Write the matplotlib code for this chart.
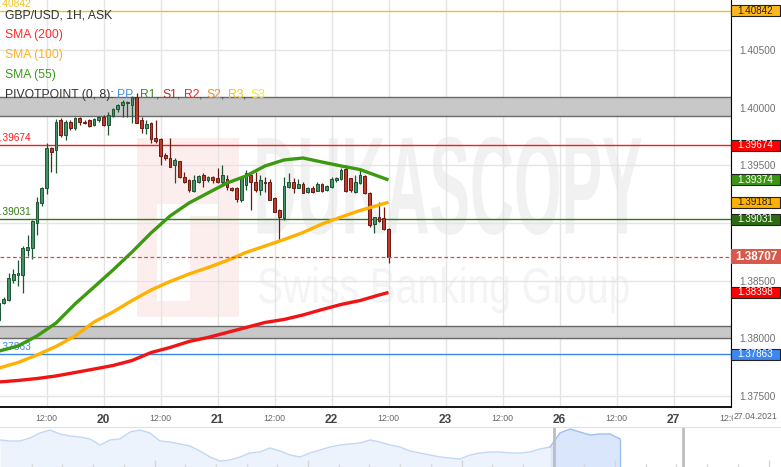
import numpy as np
import matplotlib
matplotlib.use('Agg')
import matplotlib.pyplot as plt
import matplotlib.transforms as mtransforms
from matplotlib.patches import Rectangle, PathPatch
from matplotlib.textpath import TextPath
from matplotlib.font_manager import FontProperties

plt.rcParams['font.family'] = ['Liberation Sans', 'DejaVu Sans']

# ---- hourly candles, x = hours counted from 19 Apr 00:00 (weekend removed) ----
hours = list(range(2, 85))
opens = [1.3816, 1.3831, 1.3833, 1.3851, 1.3855, 1.3855, 1.3877, 1.3878, 1.3900, 1.3917,
         1.3930, 1.3965, 1.3963, 1.3989, 1.3976, 1.3988, 1.3982, 1.3991, 1.3988, 1.3989,
         1.3985, 1.3989, 1.3992, 1.3985, 1.3993, 1.3999, 1.4002, 1.4004, 1.4002, 1.4009,
         1.3989, 1.3982, 1.3987, 1.3974, 1.3973, 1.3959, 1.3956, 1.3950, 1.3954, 1.3940,
         1.3937, 1.3928, 1.3936, 1.3942, 1.3937, 1.3940, 1.3939, 1.3936, 1.3938, 1.3930,
         1.3930, 1.3920, 1.3933, 1.3942, 1.3936, 1.3929, 1.3936, 1.3936, 1.3922, 1.3911,
         1.3904, 1.3931, 1.3936, 1.3930, 1.3934, 1.3927, 1.3930, 1.3928, 1.3934, 1.3929,
         1.3931, 1.3937, 1.3938, 1.3947, 1.3939, 1.3927, 1.3935, 1.3941, 1.3926, 1.3899,
         1.3905, 1.3904, 1.3895]
highs = [1.3833, 1.3836, 1.3857, 1.3860, 1.3868, 1.3880, 1.3890, 1.3903, 1.3923, 1.3931,
         1.3969, 1.3966, 1.3990, 1.3991, 1.3989, 1.3989, 1.3992, 1.3992, 1.3989, 1.3990,
         1.3991, 1.3993, 1.3994, 1.3996, 1.4000, 1.4003, 1.4007, 1.4006, 1.4010, 1.4013,
         1.3992, 1.3989, 1.3988, 1.3989, 1.3974, 1.3961, 1.3974, 1.3956, 1.3954, 1.3944,
         1.3938, 1.3942, 1.3942, 1.3943, 1.3941, 1.3941, 1.3948, 1.3950, 1.3942, 1.3931,
         1.3931, 1.3939, 1.3946, 1.3942, 1.3944, 1.3942, 1.3940, 1.3938, 1.3923, 1.3912,
         1.3940, 1.3943, 1.3939, 1.3938, 1.3936, 1.3931, 1.3932, 1.3936, 1.3935, 1.3933,
         1.3940, 1.3940, 1.3948, 1.3950, 1.3939, 1.3942, 1.3946, 1.3942, 1.3927, 1.3905,
         1.3918, 1.3914, 1.3896]
lows = [1.3814, 1.3830, 1.3832, 1.3848, 1.3845, 1.3839, 1.3871, 1.3869, 1.3890, 1.3915,
        1.3925, 1.3944, 1.3943, 1.3975, 1.3972, 1.3981, 1.3981, 1.3985, 1.3986, 1.3983,
        1.3984, 1.3988, 1.3984, 1.3976, 1.3992, 1.3996, 1.3992, 1.3992, 1.3987, 1.3987,
        1.3978, 1.3977, 1.3969, 1.3969, 1.3950, 1.3955, 1.3949, 1.3935, 1.3939, 1.3935,
        1.3927, 1.3927, 1.3935, 1.3931, 1.3936, 1.3935, 1.3935, 1.3933, 1.3929, 1.3928,
        1.3918, 1.3918, 1.3929, 1.3911, 1.3927, 1.3924, 1.3927, 1.3920, 1.3910, 1.3885,
        1.3903, 1.3930, 1.3926, 1.3930, 1.3926, 1.3926, 1.3926, 1.3928, 1.3927, 1.3928,
        1.3930, 1.3936, 1.3937, 1.3927, 1.3927, 1.3926, 1.3934, 1.3925, 1.3897, 1.3891,
        1.3901, 1.3894, 1.3865]
closes = [1.3831, 1.3834, 1.3852, 1.3856, 1.3857, 1.3878, 1.3879, 1.3902, 1.3918, 1.3930,
          1.3965, 1.3962, 1.3988, 1.3976, 1.3988, 1.3982, 1.3991, 1.3988, 1.3987, 1.3984,
          1.3990, 1.3992, 1.3985, 1.3994, 1.3999, 1.4002, 1.4005, 1.4005, 1.4009, 1.3987,
          1.3982, 1.3986, 1.3973, 1.3971, 1.3958, 1.3956, 1.3949, 1.3955, 1.3940, 1.3936,
          1.3929, 1.3937, 1.3941, 1.3937, 1.3940, 1.3937, 1.3936, 1.3942, 1.3931, 1.3929,
          1.3921, 1.3939, 1.3943, 1.3936, 1.3929, 1.3937, 1.3935, 1.3920, 1.3910, 1.3905,
          1.3932, 1.3936, 1.3930, 1.3934, 1.3926, 1.3930, 1.3927, 1.3934, 1.3928, 1.3932,
          1.3938, 1.3939, 1.3946, 1.3928, 1.3929, 1.3936, 1.3942, 1.3926, 1.3898, 1.3905,
          1.3902, 1.3895, 1.38707]

# moving averages, read every 4 hours
sma_hours = [2, 6, 10, 14, 18, 22, 26, 30, 34, 38, 42, 46, 50, 54, 58, 62, 66, 70, 74, 78, 82, 84]
sma55 = [1.37890, 1.37934, 1.38021, 1.38133, 1.38298, 1.38445, 1.38593, 1.38749, 1.38914, 1.39061,
         1.39174, 1.39261, 1.39347, 1.39408, 1.39495, 1.39547, 1.39564, 1.39529, 1.39495, 1.39464,
         1.39404, 1.39374]
sma100 = [1.37743, 1.37791, 1.37856, 1.37930, 1.38021, 1.38142, 1.38229, 1.38328, 1.38419, 1.38493,
          1.38558, 1.38614, 1.38675, 1.38745, 1.38801, 1.38857, 1.38918, 1.38992, 1.39052, 1.39109,
          1.39156, 1.39181]
sma200 = [1.37622, 1.37635, 1.37652, 1.37674, 1.37704, 1.37734, 1.37765, 1.37808, 1.37877, 1.37921,
          1.37973, 1.38008, 1.38051, 1.38094, 1.38138, 1.38164, 1.38203, 1.38250, 1.38294, 1.38328,
          1.38376, 1.38398]

# pivot levels and zones
pivot_values = [1.40842, 1.39674, 1.39031, 1.37863]
pivot_colors = ['#f2c21b', '#ff1a1a', '#2f7a12', '#3a86e8']
zone_low = [1.39928, 1.37999]
zone_high = [1.40096, 1.38107]
last_price = 1.38707

# x axis
tick_hours = list(range(12, 157, 12))
tick_labels = ['12:00', '20', '12:00', '21', '12:00', '22', '12:00', '23',
               '12:00', '26', '12:00', '27', '12:00']
price_ticks = [1.375, 1.380, 1.385, 1.390, 1.395, 1.400, 1.405]

# navigator overview line
nav_values = [27, 26, 26, 29, 34, 37, 33, 31, 30, 28, 22, 27, 28, 35, 37, 34, 26, 25, 23, 21,
              16, 10, 6, 7, 10, 14, 15, 19, 16, 12, 10, 14, 17, 20, 22, 23, 24, 27, 25, 22,
              20, 16, 14, 12, 10, 9, 8, 12, 14, 15, 15, 14, 14, 15, 18, 20, 34, 38, 35, 32,
              33, 33, 28]

W, H = 781, 467
fig = plt.figure(figsize=(W / 100, H / 100), dpi=100)
ax = fig.add_axes([0, 60 / H, 731 / W, 407 / H])
ax.set_xlim(2.21, 156.1)
ax.set_ylim(1.37405, 1.40934)


def stretch_text(s, box, color, weight):
    fp = FontProperties(family='Liberation Sans', weight=weight)
    tp = TextPath((0, 0), s, size=10, prop=fp)
    bb = tp.get_extents()
    x0, x1, y0, y1 = box
    tr = (mtransforms.Affine2D().translate(-bb.x0, -bb.y0)
          .scale((x1 - x0) / bb.width, (y1 - y0) / bb.height)
          .translate(x0, y0) + ax.transAxes)
    ax.add_patch(PathPatch(tp, transform=tr, facecolor=color, edgecolor='none', zorder=0.2))


# watermark
ax.add_patch(Rectangle((0.1874, 0.222), 0.139, 0.439, transform=ax.transAxes,
                       facecolor='#fdeeee', edgecolor='none', zorder=0.1))
ax.add_patch(Rectangle((0.215, 0.26), 0.045, 0.24, transform=ax.transAxes,
                       facecolor='white', edgecolor='none', zorder=0.15))
ax.add_patch(Rectangle((0.215, 0.47), 0.085, 0.03, transform=ax.transAxes,
                       facecolor='white', edgecolor='none', zorder=0.15))
stretch_text('DUKASCOPY', (0.352, 0.878, 0.423, 0.664), '#f1f1f1', 'bold')
stretch_text('Swiss Banking Group', (0.354, 0.86, 0.23, 0.345), '#f4f4f4', 'normal')

# grid
ax.set_axisbelow(True)
ax.set_xticks(tick_hours)
ax.set_xticklabels(tick_labels)
ax.set_yticks(price_ticks)
# 1.39000 sits under the R1 tag, so it is not shown
ax.set_yticklabels(['' if abs(v - 1.39) < 1e-9 else f'{v:.5f}' for v in price_ticks])
ax.grid(True, color='#e4e4e4', lw=1)
ax.yaxis.tick_right()
ax.tick_params(axis='y', length=0, pad=6, labelsize=7.2, labelcolor='#707070')
ax.tick_params(axis='x', length=0, pad=5, labelsize=6.3, labelcolor='#666666')
for lab in ax.get_xticklabels():
    if ':' not in lab.get_text():
        lab.set_fontsize(8.6)
        lab.set_fontweight('bold')
        lab.set_color('#444444')
for side in ['top', 'left']:
    ax.spines[side].set_visible(False)
ax.spines['right'].set_color('black')
ax.spines['bottom'].set_color('black')
ax.spines['bottom'].set_linewidth(1.3)

# pivot zones
for lo, hi in zip(zone_low, zone_high):
    ax.axhspan(lo, hi, facecolor='#c8c8c8', edgecolor='none', zorder=1.2)
    ax.axhline(lo, color='#6a6a6a', lw=1, zorder=1.3)
    ax.axhline(hi, color='#6a6a6a', lw=1, zorder=1.3)

# pivot lines with clipped left labels
for v, c in zip(pivot_values, pivot_colors):
    ax.axhline(v, color=c, lw=1, zorder=1.4)
    ax.annotate(f'{v:.5f}', xy=(0, v), xycoords=('axes fraction', 'data'),
                xytext=(-4.2, 1.5), textcoords='offset points', ha='left', va='bottom',
                fontsize=7.3, color=c, annotation_clip=False, clip_on=True, zorder=1.5)

# candles
for h, o, hi, lo, c in zip(hours, opens, highs, lows, closes):
    up = c >= o
    face = '#43926a' if up else '#c0392b'
    edge = '#1d5533' if up else '#6b1a12'
    ax.vlines(h, lo, hi, color=edge, lw=0.9, zorder=2)
    ax.bar(h, max(abs(c - o), 0.00008), bottom=min(o, c), width=0.62,
           color=face, edgecolor=edge, lw=0.7, zorder=2.1)

# moving averages
ax.plot(sma_hours, sma200, color='#f01414', lw=2.4, zorder=3, solid_capstyle='butt')
ax.plot(sma_hours, sma100, color='#ffb000', lw=2.4, zorder=3, solid_capstyle='butt')
ax.plot(sma_hours, sma55, color='#3b9a10', lw=2.4, zorder=3, solid_capstyle='butt')

# last price
ax.axhline(last_price, color='#c8544a', lw=0.9, ls=(0, (3, 2)), zorder=3.2)

# legend block
leg_y = [0.962, 0.913, 0.864, 0.815]
leg_txt = ['GBP/USD, 1H, ASK', 'SMA (200)', 'SMA (100)', 'SMA (55)']
leg_col = ['#333333', '#ff2a2a', '#ffb01e', '#3a9a1a']
for y, s, c in zip(leg_y, leg_txt, leg_col):
    ax.text(0.0068, y, s, transform=ax.transAxes, fontsize=8.7, color=c,
            va='center', ha='left', zorder=5)
pieces = [('PIVOTPOINT (0, 8): ', '#333333'), ('PP', '#4a90e8'), (', ', '#444444'),
          ('R1', '#3d8b24'), (', ', '#444444'), ('S1', '#c0282d'), (', ', '#444444'),
          ('R2', '#ff2222'), (', ', '#444444'), ('S2', '#ff8a1f'), (', ', '#444444'),
          ('R3', '#ffbf00'), (', ', '#444444'), ('S3', '#ffe600')]
t = ax.text(0.0068, 0.766, pieces[0][0], transform=ax.transAxes, fontsize=8.7,
            color=pieces[0][1], va='center', ha='left', zorder=5)
for s, c in pieces[1:]:
    t = ax.annotate(s, xy=(1, 0.5), xycoords=t, va='center', ha='left',
                    fontsize=8.7, color=c, zorder=5)

# price tags on the right
blend = mtransforms.blended_transform_factory(ax.transAxes, ax.transData)
tag_values = [1.40842, 1.39674, 1.39374, 1.39181, 1.39031, 1.38398, 1.37863]
tag_faces = ['#ffb81c', '#ff0000', '#3a9610', '#ffb000', '#2d6b12', '#ff0000', '#3d87f0']
tag_text = ['#222222', 'white', 'white', '#222222', 'white', 'white', 'white']
tag_h = 11 / 11533
for v, f, tc in zip(tag_values, tag_faces, tag_text):
    ax.add_patch(Rectangle((1.0, v - tag_h / 2), 49 / 731, tag_h, transform=blend,
                           facecolor=f, edgecolor='#222222', lw=0.8, clip_on=False, zorder=10))
    ax.text(1 + 24.5 / 731, v, f'{v:.5f}', transform=blend, fontsize=7.1, color=tc,
            ha='center', va='center', zorder=11, clip_on=False)
big_h = 15 / 11533
ax.add_patch(Rectangle((1.0, last_price - big_h / 2), 50 / 731, big_h, transform=blend,
                       facecolor='#d9584a', edgecolor='none', clip_on=False, zorder=10))
ax.text(1 + 25 / 731, last_price, f'{last_price:.5f}', transform=blend, fontsize=8.4,
        fontweight='bold', color='white', ha='center', va='center', zorder=11, clip_on=False)

fig.text(777 / W, 1 - 416.5 / H, '27.04.2021', fontsize=6.3, color='#666666',
         ha='right', va='center', bbox=dict(facecolor='white', edgecolor='none', pad=0.3))

# navigator
nav = fig.add_axes([0, 0, 1, 40 / H])
nav.set_xlim(0, 78.1)
nav.set_ylim(0, 40)
nx = np.arange(len(nav_values))
nv = np.array(nav_values, dtype=float)
split = 55
nav.fill_between(nx[:split + 1], nv[:split + 1], 0, color='#edf3fd', lw=0)
nav.plot(nx[:split + 1], nv[:split + 1], color='#c3d7f5', lw=1)
nav.fill_between(nx[split:], nv[split:], 0, color='#d9e6fb', lw=0)
nav.plot(nx[split:], nv[split:], color='#9dbef0', lw=1)
nav.vlines(nx[-1], 0, nv[-1], color='#9dbef0', lw=1)
for i, p in enumerate(np.arange(3.17, 78, 3.07)):
    nav.vlines(p, 0, 7 if i % 5 == 4 else 3, color='#d5d5d5', lw=1)
nav.vlines([55.4, 68.3], 0, 40, color='#bdbdbd', lw=2)
nav.set_xticks([])
nav.set_yticks([])
for side in ['left', 'right', 'bottom']:
    nav.spines[side].set_visible(False)
nav.spines['top'].set_color('#e0e0e0')
nav.patch.set_alpha(0)

fig.savefig('out.png', dpi=100)
